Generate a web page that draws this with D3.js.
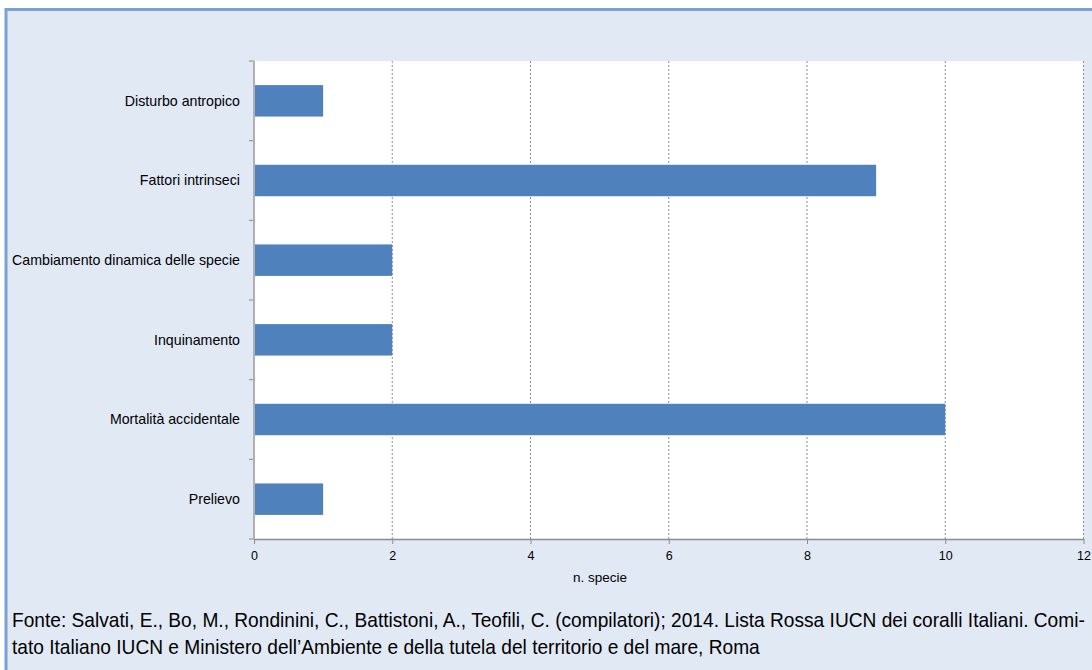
<!DOCTYPE html>
<html><head><meta charset="utf-8">
<script src="https://cdn.jsdelivr.net/npm/d3@7"></script>
<style>
html,body{margin:0;padding:0;background:#fff;}
svg{display:block;}
</style>
</head><body>
<svg id="chart" width="1092" height="670"></svg>
<script>
const categories = ["Disturbo antropico","Fattori intrinseci","Cambiamento dinamica delle specie","Inquinamento","Mortalità accidentale","Prelievo"];
const values = [1, 9, 2, 2, 10, 1];
const xTicks = [0, 2, 4, 6, 8, 10, 12];
const xTitle = "n. specie";
const sourceLines = [
  "Fonte: Salvati, E., Bo, M., Rondinini, C., Battistoni, A., Teofili, C. (compilatori); 2014. Lista Rossa IUCN dei coralli Italiani. Comi-",
  "tato Italiano IUCN e Ministero dell\u2019Ambiente e della tutela del territorio e del mare, Roma"
];

const FONT = "Liberation Sans, Arial, sans-serif";
const svg = d3.select("#chart");
// frame
svg.append("rect").attr("x", 6).attr("y", 9.5).attr("width", 1100).attr("height", 700)
  .attr("fill", "#e1e9f5").attr("stroke", "#7ba2d6").attr("stroke-width", 3);

const plot = {left: 254, right: 1083.5, top: 61, bottom: 539};
const x = d3.scaleLinear().domain([0, 12]).range([plot.left, plot.right]);
const y = d3.scaleBand().domain(categories).range([plot.top, plot.bottom]).paddingInner(0.605).paddingOuter(0.3025);
const yb = d3.scaleBand().domain(categories).range([plot.top, plot.bottom]);

svg.append("rect").attr("x", plot.left).attr("y", plot.top)
  .attr("width", plot.right - plot.left).attr("height", plot.bottom - plot.top).attr("fill", "#fff");

// gridlines
svg.append("g").selectAll("line").data(xTicks.filter(d => d > 0)).join("line")
  .attr("x1", d => x(d)).attr("x2", d => x(d))
  .attr("y1", plot.top).attr("y2", plot.bottom)
  .attr("stroke", "#8c8c8c").attr("stroke-width", 1).attr("stroke-dasharray", "2,2");

// bars
svg.append("g").selectAll("rect").data(categories).join("rect")
  .attr("x", x(0)).attr("y", d => y(d))
  .attr("width", (d, i) => x(values[i]) - x(0)).attr("height", y.bandwidth())
  .attr("fill", "#4f81bd");

// x axis
const xAxis = d3.axisBottom(x).tickValues(xTicks).tickSize(5).tickSizeOuter(0);
const gx = svg.append("g").attr("transform", `translate(0,${plot.bottom})`).call(xAxis);
gx.select(".domain").attr("stroke", "#8c8c8c").attr("stroke-width", 1.5);
gx.selectAll(".tick line").attr("stroke", "#8c8c8c");
gx.selectAll("text").attr("font-family", FONT).attr("font-size", 12.5).attr("fill", "#000").attr("dy", "1.05em");

// y axis
const boundaries = categories.map(c => yb(c)).concat([plot.bottom]);
svg.append("g").selectAll("line").data(boundaries).join("line")
  .attr("x1", plot.left - 5).attr("x2", plot.left).attr("y1", d => d).attr("y2", d => d)
  .attr("stroke", "#8c8c8c");
svg.append("line").attr("x1", plot.left).attr("x2", plot.left).attr("y1", plot.top).attr("y2", plot.bottom)
  .attr("stroke", "#b0b0b0").attr("stroke-width", 2);
svg.append("g").selectAll("text").data(categories).join("text")
  .attr("x", 240).attr("y", d => yb(d) + yb.bandwidth() / 2).attr("dy", "0.35em")
  .attr("text-anchor", "end").attr("font-family", FONT)
  .attr("font-size", 14.2).attr("fill", "#000").text(d => d);

svg.append("text").attr("x", 600).attr("y", 582).attr("text-anchor", "middle")
  .attr("font-family", FONT).attr("font-size", 13.5).attr("fill", "#000").text(xTitle);

// source (condensed)
const src = svg.append("g");
const st = src.selectAll("text").data(sourceLines).join("text")
  .attr("x", 0).attr("y", (d, i) => 627.5 + i * 27)
  .attr("font-family", FONT).attr("font-size", 20.5)
  .attr("fill", "#000").text(d => d);
const w0 = st.nodes()[0].getComputedTextLength();
const sx = 1073 / w0;
src.attr("transform", `translate(12,0) scale(${sx},1)`);
</script>
</body></html>
